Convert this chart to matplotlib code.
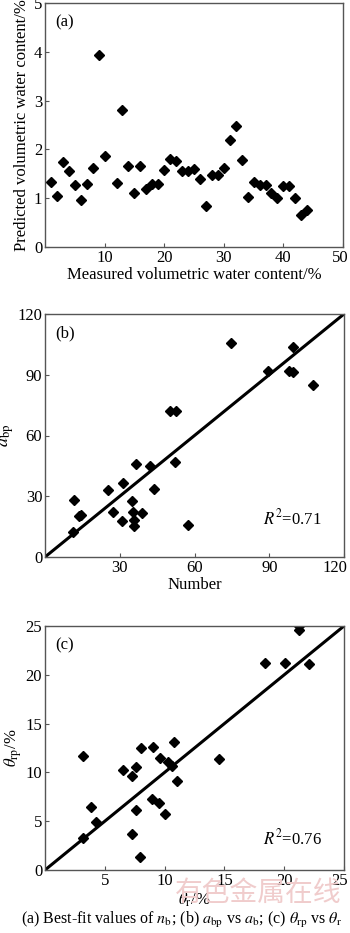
import matplotlib
matplotlib.use("Agg")
import matplotlib.pyplot as plt
from matplotlib.transforms import ScaledTranslation

plt.rcParams["font.family"] = ["Liberation Serif", "Noto Sans CJK SC"]
plt.rcParams["mathtext.fontset"] = "stix"

# (a) predicted water content for each measured sample
MEASURED = [1, 2, 3, 4, 5, 6, 7, 8, 9, 10, 12, 13, 14, 15, 16, 17, 18, 19, 20,
            21, 22, 23, 24, 25, 26, 27, 28, 29, 30, 31, 32, 33, 34, 35, 36, 37,
            38, 39, 40, 41, 42, 43, 44]
PREDICTED = [1.34, 1.05, 1.74, 1.55, 1.27, 0.96, 1.30, 1.61, 3.94, 1.87, 1.32,
             2.81, 1.65, 1.10, 1.67, 1.19, 1.30, 1.29, 1.58, 1.80, 1.76, 1.55,
             1.55, 1.59, 1.39, 0.84, 1.48, 1.48, 1.61, 2.19, 2.48, 1.78, 1.02,
             1.33, 1.27, 1.27, 1.10, 1.01, 1.25, 1.26, 1.01, 0.66, 0.76]

# (b) a_bp vs a_b
A_B = [11.6, 11.1, 13.8, 14.3, 25.4, 27.4, 31.3, 31.0, 34.9, 35.5, 35.8, 35.9,
       36.5, 39.1, 42.1, 43.9, 50.2, 52.4, 52.3, 57.4, 74.6, 89.4, 98.1, 99.4,
       99.4, 107.7]
A_BP = [28.0, 12.3, 20.1, 20.9, 33.2, 22.2, 36.7, 17.6, 27.5, 22.2, 18.4, 15.5,
        45.7, 21.7, 44.7, 33.5, 72.3, 72.0, 46.7, 15.8, 105.9, 91.9, 91.9, 91.4,
        103.9, 85.0]
R2_B = 0.71

# (c) theta_rp vs theta_r
THETA_R = [3.15, 3.2, 3.85, 4.26, 6.55, 7.25, 7.25, 7.6, 7.58, 8.03, 7.94, 9.06,
           8.97, 9.56, 9.62, 10.03, 10.31, 10.59, 10.79, 11.0, 14.55, 18.4, 20.1,
           21.24, 21.24, 22.1]
THETA_RP = [11.73, 3.24, 6.41, 4.88, 10.23, 9.65, 3.65, 10.57, 6.14, 12.52, 1.30,
            12.62, 7.23, 6.82, 11.43, 5.73, 11.02, 10.68, 13.13, 9.11, 11.36,
            21.2, 21.2, 25.03, 24.56, 21.08]
R2_C = 0.76

W, H = 350, 933
fig = plt.figure(figsize=(W / 100, H / 100), dpi=100)


def make_axes(left, right, top, bottom):
    ax = fig.add_axes([left / W, 1 - bottom / H, (right - left) / W, (bottom - top) / H])
    for s in ax.spines.values():
        s.set_color("#555555")
        s.set_linewidth(1.0)
    ax.tick_params(direction="in", length=3, width=0.8, color="#555555",
                   labelsize=12, pad=2)
    return ax


def style_points(ax, x, y):
    ax.plot(x, y, linestyle="none", marker="D", markersize=5.2, color="black")


def pull_last_xlabel(ax, dx_px):
    # keep the right-most tick label inside the figure
    fig.canvas.draw()
    lab = ax.get_xticklabels()[-1]
    lab.set_transform(lab.get_transform() + ScaledTranslation(dx_px / 100, 0, fig.dpi_scale_trans))


# panel (a)
ax_a = make_axes(45, 343, 3, 247)
style_points(ax_a, MEASURED, PREDICTED)
ax_a.set_xlim(0, 50)
ax_a.set_ylim(0, 5)
ax_a.set_xticks([10, 20, 30, 40, 50])
ax_a.set_yticks([0, 1, 2, 3, 4, 5])
ax_a.set_xlabel("Measured volumetric water content/%", fontsize=12, labelpad=1)
ax_a.set_ylabel("Predicted volumetric water content/%", fontsize=12, labelpad=3)
ax_a.text(0.035, 0.955, "(a)", transform=ax_a.transAxes, fontsize=12, va="top")

# panel (b)
ax_b = make_axes(45, 344, 314, 557)
ax_b.plot([0, 120], [0, 120], color="black", linewidth=2.2)
style_points(ax_b, A_B, A_BP)
ax_b.set_xlim(0, 120)
ax_b.set_ylim(0, 120)
ax_b.set_xticks([30, 60, 90, 120])
ax_b.set_yticks([0, 30, 60, 90, 120])
ax_b.set_xlabel("Number", fontsize=12, labelpad=1)
ax_b.set_ylabel(r"$a_{\mathrm{bp}}$", fontsize=13, labelpad=1)
ax_b.text(0.035, 0.955, "(b)", transform=ax_b.transAxes, fontsize=12, va="top")
ax_b.text(0.73, 0.16, rf"$R^2$={R2_B:.2f}", transform=ax_b.transAxes, fontsize=12, va="center")

# panel (c)
ax_c = make_axes(45, 344, 626, 870)
ax_c.plot([0, 25], [0, 25], color="black", linewidth=2.2)
style_points(ax_c, THETA_R, THETA_RP)
ax_c.set_xlim(0, 25)
ax_c.set_ylim(0, 25)
ax_c.set_xticks([5, 10, 15, 20, 25])
ax_c.set_yticks([0, 5, 10, 15, 20, 25])
ax_c.set_xlabel(r"$\theta_{\mathrm{r}}$/%", fontsize=12, labelpad=1)
ax_c.set_ylabel(r"$\theta_{\mathrm{rp}}$/%", fontsize=12, labelpad=1)
ax_c.text(0.035, 0.955, "(c)", transform=ax_c.transAxes, fontsize=12, va="top")
ax_c.text(0.73, 0.13, rf"$R^2$={R2_C:.2f}", transform=ax_c.transAxes, fontsize=12, va="center")

pull_last_xlabel(ax_a, -3)
pull_last_xlabel(ax_b, -9)
pull_last_xlabel(ax_c, -4)

# faint site watermark
fig.text(258 / W, 1 - 893 / H, "有色金属在线", ha="center", va="center",
         fontsize=20, color="#f0cccc", family=["Noto Sans CJK SC"], zorder=0)

fig.text(182 / W, 1 - 920 / H,
         r"(a) Best-fit values of $n_{\mathrm{b}}$; (b) $a_{\mathrm{bp}}$ vs $a_{\mathrm{b}}$; "
         r"(c) $\theta_{\mathrm{rp}}$ vs $\theta_{\mathrm{r}}$",
         ha="center", va="center", fontsize=11.5)

fig.savefig("out.png", dpi=100)
